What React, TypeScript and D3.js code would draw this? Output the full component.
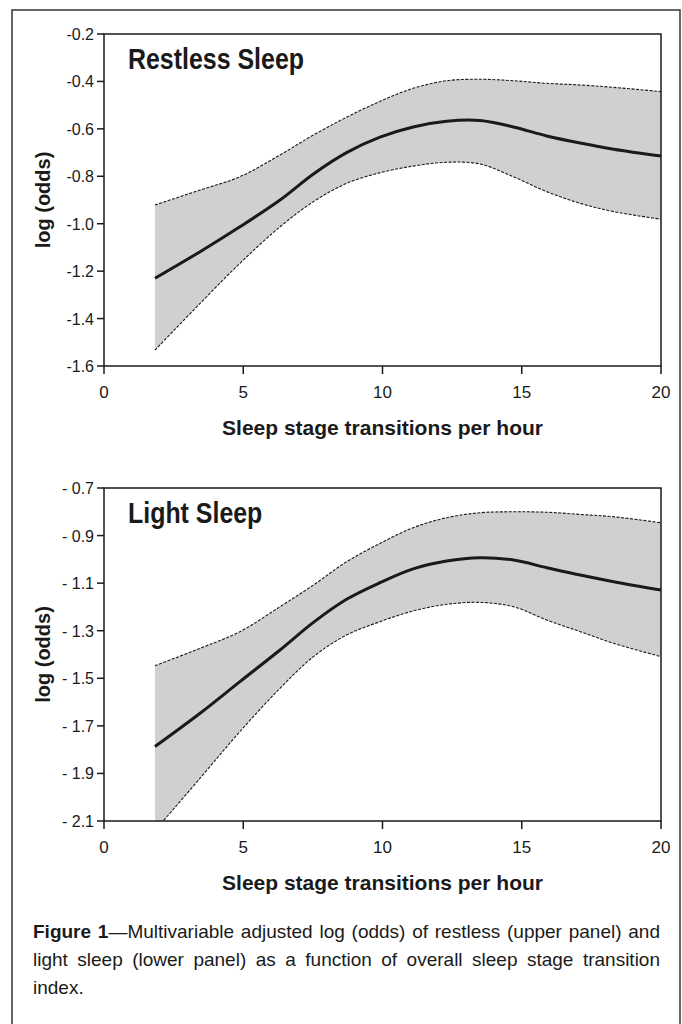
import React, { useEffect, useRef } from "react";
import * as d3 from "d3";

// transitions per hour (x positions)
const xPoints = [1.83, 3.45, 4.88, 6.32, 7.52, 8.71, 9.91, 11.1, 12.3, 13.5, 14.7, 15.9, 17.1, 18.3, 20];

const restlessFit = [-1.23, -1.118, -1.013, -0.9, -0.79, -0.7, -0.635, -0.592, -0.568, -0.565, -0.592, -0.63, -0.66, -0.686, -0.715];
const restlessUpper = [-0.921, -0.858, -0.802, -0.71, -0.626, -0.551, -0.484, -0.429, -0.397, -0.391, -0.397, -0.408, -0.415, -0.425, -0.443];
const restlessLower = [-1.533, -1.336, -1.167, -1.013, -0.907, -0.83, -0.785, -0.757, -0.741, -0.748, -0.802, -0.865, -0.914, -0.949, -0.981];

const lightFit = [-1.787, -1.647, -1.514, -1.381, -1.265, -1.168, -1.098, -1.04, -1.007, -0.993, -1.003, -1.035, -1.066, -1.094, -1.129];
const lightUpper = [-1.447, -1.374, -1.304, -1.199, -1.108, -1.01, -0.933, -0.867, -0.825, -0.804, -0.8, -0.802, -0.811, -0.821, -0.846];
const lightLower = [-2.14, -1.92, -1.724, -1.542, -1.409, -1.318, -1.262, -1.217, -1.189, -1.181, -1.199, -1.255, -1.304, -1.353, -1.409];

const xTicks = [0, 5, 10, 15, 20];
const restlessTicks = [-0.2, -0.4, -0.6, -0.8, -1.0, -1.2, -1.4, -1.6];
const restlessTickLabels = ["-0.2", "-0.4", "-0.6", "-0.8", "-1.0", "-1.2", "-1.4", "-1.6"];
const lightTicks = [-0.7, -0.9, -1.1, -1.3, -1.5, -1.7, -1.9, -2.1];
const lightTickLabels = ["- 0.7", "- 0.9", "- 1.1", "- 1.3", "- 1.5", "- 1.7", "- 1.9", "- 2.1"];

const captionLines = [
  "—Multivariable adjusted log (odds) of restless (upper panel) and",
  "light sleep (lower panel) as a function of overall sleep stage transition",
  "index.",
];

const FONT = "'Liberation Sans', Arial, Helvetica, sans-serif";
const INK = "#1a1a1a";

function Panel({ id, top, bottom, title, fit, upper, lower, yTicks, yLabels }) {
  const left = 104;
  const right = 661;
  const x = d3.scaleLinear().domain([0, 20]).range([left, right]);
  const y = d3.scaleLinear().domain([yTicks[0], yTicks[yTicks.length - 1]]).range([top, bottom]);

  const rows = xPoints.map((d, i) => ({ x: d, fit: fit[i], lo: lower[i], hi: upper[i] }));
  const curve = d3.curveCatmullRom.alpha(0.5);
  const band = d3.area()
    .x((d) => x(d.x))
    .y0((d) => y(d.lo))
    .y1((d) => y(d.hi))
    .curve(curve);
  const line = (key) => d3.line().x((d) => x(d.x)).y((d) => y(d[key])).curve(curve)(rows);

  return (
    <g>
      <defs>
        <clipPath id={id}>
          <rect x={left} y={top} width={right - left} height={bottom - top} />
        </clipPath>
      </defs>
      <g clipPath={`url(#${id})`}>
        <path d={band(rows)} fill="#cfd0d2" />
        <path d={line("hi")} fill="none" stroke={INK} strokeWidth={1.1} strokeDasharray="3,1.5" />
        <path d={line("lo")} fill="none" stroke={INK} strokeWidth={1.1} strokeDasharray="3,1.5" />
        <path d={line("fit")} fill="none" stroke={INK} strokeWidth={3} />
      </g>
      <rect x={left} y={top} width={right - left} height={bottom - top} fill="none" stroke={INK} strokeWidth={1.5} />
      {yTicks.map((t, i) => (
        <g key={i}>
          <line x1={left - 7} x2={left} y1={y(t)} y2={y(t)} stroke={INK} strokeWidth={1.5} />
          <text x={left - 10} y={y(t) + 6} textAnchor="end" fontSize={16} fontFamily={FONT} fill={INK}>
            {yLabels[i]}
          </text>
        </g>
      ))}
      {xTicks.map((t) => (
        <g key={t}>
          <line x1={x(t)} x2={x(t)} y1={bottom} y2={bottom + 8} stroke={INK} strokeWidth={1.5} />
          <text x={x(t)} y={bottom + 32} textAnchor="middle" fontSize={17} fontFamily={FONT} fill={INK}>
            {t}
          </text>
        </g>
      ))}
      {/* condensed bold title */}
      <text transform={`translate(128,${top + 35}) scale(0.86,1)`} fontSize={29} fontWeight="bold" fontFamily={FONT} fill={INK}>
        {title}
      </text>
      <text
        transform={`translate(50,${(top + bottom) / 2}) rotate(-90)`}
        textAnchor="middle"
        fontSize={20}
        fontWeight="bold"
        fontFamily={FONT}
        fill={INK}
      >
        log (odds)
      </text>
      <text x={(left + right) / 2} y={bottom + 69} textAnchor="middle" fontSize={21} fontWeight="bold" fontFamily={FONT} fill={INK}>
        Sleep stage transitions per hour
      </text>
    </g>
  );
}

export default function App() {
  const lineRefs = useRef([]);

  // justify the first two caption lines to the frame width
  useEffect(() => {
    const target = 660 - 33;
    lineRefs.current.slice(0, 2).forEach((el) => {
      if (!el) return;
      el.setAttribute("word-spacing", "0");
      const natural = el.getComputedTextLength();
      const spaces = (el.textContent.match(/ /g) || []).length;
      if (spaces > 0) el.setAttribute("word-spacing", String((target - natural) / spaces));
    });
  }, []);

  return (
    <svg width={682} height={1024} style={{ position: "absolute", left: 0, top: 0, background: "#fff" }}>
      <rect x={12} y={10} width={668} height={1040} fill="none" stroke="#333" strokeWidth={1.5} />
      <Panel
        id="clip-restless"
        top={34}
        bottom={366}
        title="Restless Sleep"
        fit={restlessFit}
        upper={restlessUpper}
        lower={restlessLower}
        yTicks={restlessTicks}
        yLabels={restlessTickLabels}
      />
      <Panel
        id="clip-light"
        top={488}
        bottom={821}
        title="Light Sleep"
        fit={lightFit}
        upper={lightUpper}
        lower={lightLower}
        yTicks={lightTicks}
        yLabels={lightTickLabels}
      />
      {captionLines.map((txt, i) => (
        <text
          key={i}
          ref={(el) => (lineRefs.current[i] = el)}
          x={33}
          y={938 + i * 28}
          fontSize={19}
          fontFamily={FONT}
          fill={INK}
        >
          {i === 0 && <tspan fontWeight="bold">Figure 1</tspan>}
          {txt}
        </text>
      ))}
    </svg>
  );
}
